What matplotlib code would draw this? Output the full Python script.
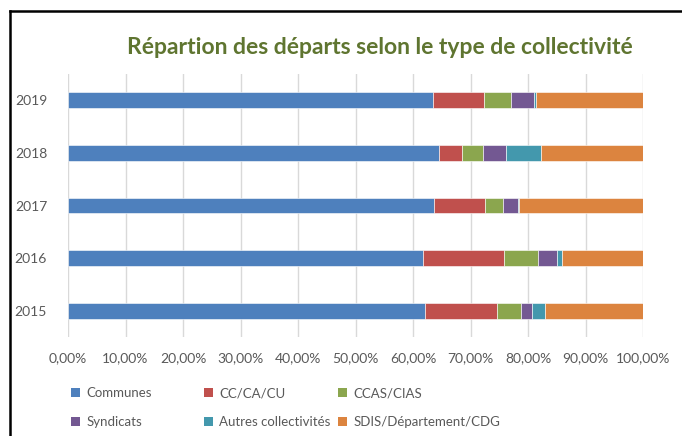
import matplotlib
matplotlib.use('Agg')
import matplotlib.pyplot as plt
import matplotlib.ticker as ticker
from matplotlib.lines import Line2D
from matplotlib.patches import Patch
import numpy as np

plt.rcParams['font.family'] = ['Lato', 'DejaVu Sans']

# Share of departures (%) by type of authority
years = ['2015', '2016', '2017', '2018', '2019']
communes = [62.1, 61.8, 63.7, 64.6, 63.4]
cc_ca_cu = [12.5, 14.1, 8.9, 3.9, 8.9]
ccas_cias = [4.2, 5.8, 3.1, 3.7, 4.7]
syndicats = [1.9, 3.3, 2.6, 3.9, 4.0]
autres = [2.3, 0.9, 0.1, 6.2, 0.4]
sdis_dep_cdg = [17.0, 14.1, 21.6, 17.7, 18.6]

series_names = ['Communes', 'CC/CA/CU', 'CCAS/CIAS', 'Syndicats',
                'Autres collectivités', 'SDIS/Département/CDG']
series_values = [communes, cc_ca_cu, ccas_cias, syndicats, autres, sdis_dep_cdg]
colors = ['#4e80bd', '#c0504d', '#8ba64e', '#735892', '#4398ad', '#dc843f']
x_ticks = [0, 10, 20, 30, 40, 50, 60, 70, 80, 90, 100]

W, H = 682, 436
fig = plt.figure(figsize=(W / 100, H / 100), dpi=100)
ax = fig.add_axes([68 / W, 1 - 337 / H, (643 - 68) / W, (337 - 74) / H])

ypos = np.arange(len(years))
left = np.zeros(len(years))
handles = []
for name, vals, col in zip(series_names, series_values, colors):
    vals = np.array(vals)
    ax.barh(ypos, vals, left=left, height=0.3, color=col,
            edgecolor='white', linewidth=0.4, zorder=3)
    left += vals
    handles.append(Patch(facecolor=col, edgecolor='none', label=name))

ax.set_xlim(0, 100)
ax.set_ylim(-0.5, len(years) - 0.5)
ax.set_yticks(ypos)
ax.set_yticklabels(years)
ax.set_xticks(x_ticks)
ax.xaxis.set_major_formatter(
    ticker.FuncFormatter(lambda x, pos: '{0:.2f}%'.format(x).replace('.', ',')))
ax.tick_params(axis='both', length=0, labelsize=10, labelcolor='#595959')
ax.tick_params(axis='x', pad=11)
ax.tick_params(axis='y', pad=15)
ax.grid(axis='x', color='#d9d9d9', linewidth=1, zorder=0)
for s in ax.spines.values():
    s.set_visible(False)

fig.text(380 / W, 1 - 47 / H, 'Répartion des départs selon le type de collectivité',
         ha='center', va='center', fontsize=16.5, fontweight='bold', color='#5f7530')

# legend: three columns, two rows
col_x = [71, 204, 338]
for i, x in enumerate(col_x):
    leg = fig.legend(handles=[handles[i], handles[i + 3]], loc='upper left',
                     bbox_to_anchor=(x / W, 1 - 387 / H), frameon=False,
                     fontsize=9.5, handlelength=0.7, handleheight=0.7,
                     handletextpad=0.45, labelspacing=1.3, borderpad=0,
                     borderaxespad=0)
    for t in leg.get_texts():
        t.set_color('#595959')

# outer chart frame (partly cropped)
fig.add_artist(Line2D([10 / W, 10 / W], [0, 1 - 11 / H], color='black',
                      linewidth=1.8, transform=fig.transFigure))
fig.add_artist(Line2D([10 / W, 1], [1 - 11 / H, 1 - 11 / H], color='black',
                      linewidth=1.8, transform=fig.transFigure))

fig.savefig('out.png', dpi=100)
